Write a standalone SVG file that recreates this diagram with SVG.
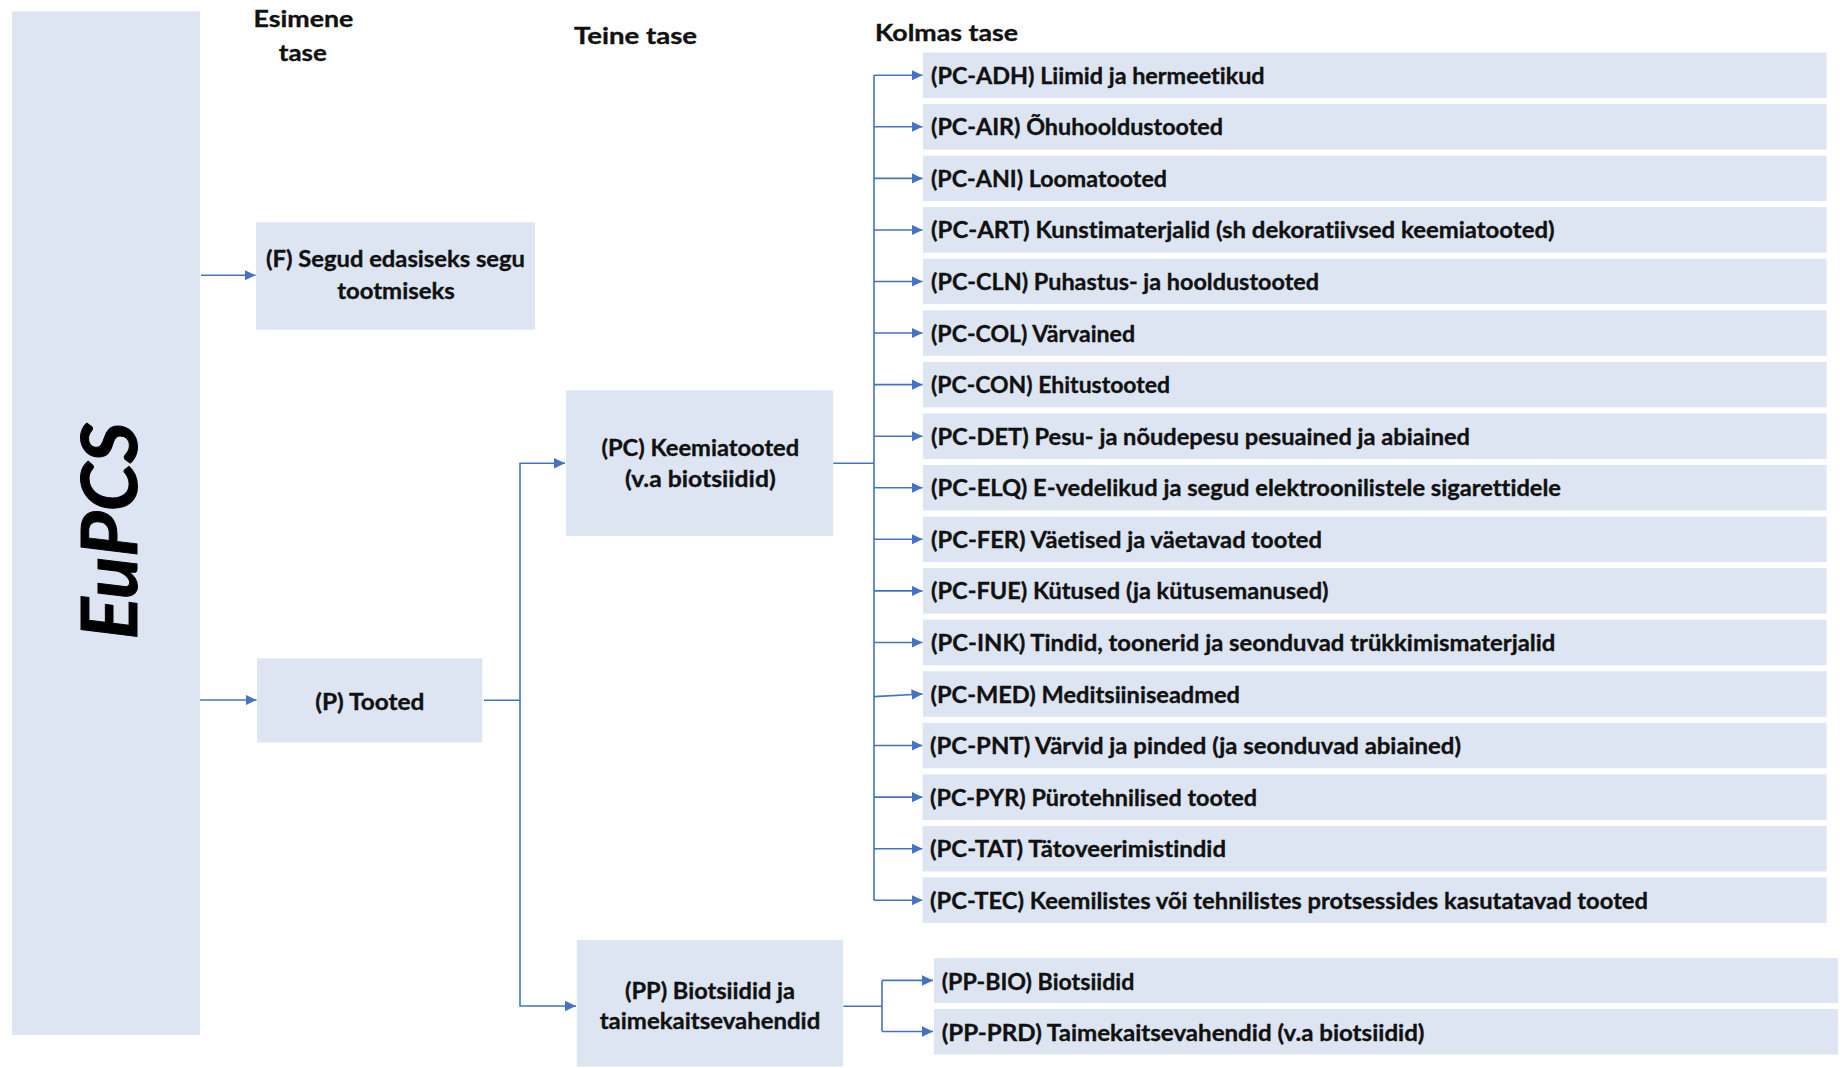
<svg xmlns="http://www.w3.org/2000/svg" width="1840" height="1068" viewBox="0 0 1840 1068">
<style>
.box{fill:#DDE5F2}
.t{font-family:Lato,"Liberation Sans","DejaVu Sans",sans-serif;font-weight:bold;font-size:23px;fill:#111;stroke:#111;stroke-width:0.35;font-variant-ligatures:none}
.c{text-anchor:middle}
.ln{fill:none;stroke:#4472C4;stroke-width:1.6}
.ar{fill:none;stroke:#4472C4;stroke-width:1.6;marker-end:url(#ah)}
</style>
<defs>
<marker id="ah" markerUnits="userSpaceOnUse" markerWidth="12" markerHeight="12" refX="11" refY="5.25" orient="auto">
<path d="M0,0 L11,5.25 L0,10.5 z" fill="#4472C4"/>
</marker>
</defs>
<rect width="1840" height="1068" fill="#fff"/>

<g id="headers">
<text class="t c" x="303.4" y="26.6" textLength="99.7" lengthAdjust="spacingAndGlyphs">Esimene</text>
<text class="t c" x="302.8" y="61.3" textLength="48" lengthAdjust="spacingAndGlyphs">tase</text>
<text class="t c" x="635.5" y="43.6" textLength="123" lengthAdjust="spacingAndGlyphs">Teine tase</text>
<text class="t" x="875" y="40.7" textLength="143" lengthAdjust="spacingAndGlyphs">Kolmas tase</text>
</g>

<g id="connectors">
<line class="ar" x1="201" y1="275.3" x2="255.5" y2="275.3"/>
<line class="ar" x1="200" y1="700" x2="256.5" y2="700"/>
<path class="ar" d="M484,700.2 H520 V463.3 H565"/>
<path class="ar" d="M520,700.2 V1006 H576"/>
<path class="ln" d="M833.2,463.3 H874 M874,75.25 V900.25"/>
<line class="ar" x1="874" y1="75.25" x2="922.5" y2="75.25"/>
<line class="ar" x1="874" y1="126.81" x2="922.5" y2="126.81"/>
<line class="ar" x1="874" y1="178.38" x2="922.5" y2="178.38"/>
<line class="ar" x1="874" y1="229.94" x2="922.5" y2="229.94"/>
<line class="ar" x1="874" y1="281.5" x2="922.5" y2="281.5"/>
<line class="ar" x1="874" y1="333.06" x2="922.5" y2="333.06"/>
<line class="ar" x1="874" y1="384.63" x2="922.5" y2="384.63"/>
<line class="ar" x1="874" y1="436.19" x2="922.5" y2="436.19"/>
<line class="ar" x1="874" y1="487.75" x2="922.5" y2="487.75"/>
<line class="ar" x1="874" y1="539.31" x2="922.5" y2="539.31"/>
<line class="ar" x1="874" y1="590.88" x2="922.5" y2="590.88"/>
<line class="ar" x1="874" y1="642.44" x2="922.5" y2="642.44"/>
<line class="ar" x1="874" y1="696.6" x2="922.5" y2="694"/>
<line class="ar" x1="874" y1="745.56" x2="922.5" y2="745.56"/>
<line class="ar" x1="874" y1="797.13" x2="922.5" y2="797.13"/>
<line class="ar" x1="874" y1="848.69" x2="922.5" y2="848.69"/>
<line class="ar" x1="874" y1="900.25" x2="922.5" y2="900.25"/>
<path class="ln" d="M843.3,1006.3 H882 M882,980.4 V1031.5"/>
<line class="ar" x1="882" y1="980.4" x2="933" y2="980.4"/>
<line class="ar" x1="882" y1="1031.5" x2="933" y2="1031.5"/>
</g>

<g id="n-eupcs">
<rect class="box" x="12" y="11.5" width="188" height="1023.5"/>
<text transform="translate(136.7,531) rotate(-90)" x="0" y="0" text-anchor="middle" textLength="217" lengthAdjust="spacingAndGlyphs" style="font-family:Lato,'Liberation Sans',sans-serif;font-weight:bold;font-style:italic;font-size:77px;fill:#000;stroke:#000;stroke-width:1">EuPCS</text>
</g>

<g id="n-f">
<rect class="box" x="256" y="222.3" width="279" height="107.4"/>
<text class="t c" x="395.5" y="266.7" textLength="259" lengthAdjust="spacingAndGlyphs">(F) Segud edasiseks segu</text>
<text class="t c" x="396" y="299.3" textLength="117.7" lengthAdjust="spacingAndGlyphs">tootmiseks</text>
</g>

<g id="n-p">
<rect class="box" x="257" y="658.3" width="225.3" height="84.1"/>
<text class="t c" x="369.8" y="710.4" textLength="109" lengthAdjust="spacingAndGlyphs">(P) Tooted</text>
</g>

<g id="n-pc">
<rect class="box" x="566.2" y="390.3" width="267" height="145.7"/>
<text class="t c" x="700.3" y="456.4" textLength="197.8" lengthAdjust="spacingAndGlyphs">(PC) Keemiatooted</text>
<text class="t c" x="700.3" y="487" textLength="150.8" lengthAdjust="spacingAndGlyphs">(v.a biotsiidid)</text>
</g>

<g id="n-pp">
<rect class="box" x="576.8" y="940" width="266.4" height="126.5"/>
<text class="t c" x="710" y="999" textLength="170" lengthAdjust="spacingAndGlyphs">(PP) Biotsiidid ja</text>
<text class="t c" x="710" y="1028.5" textLength="220.6" lengthAdjust="spacingAndGlyphs">taimekaitsevahendid</text>
</g>

<g id="n-pc-adh"><rect class="box" x="923" y="52.5" width="903.5" height="45.5"/><text class="t" x="931" y="83.75" textLength="333.6" lengthAdjust="spacingAndGlyphs">(PC-ADH) Liimid ja hermeetikud</text></g>
<g id="n-pc-air"><rect class="box" x="923" y="104.06" width="903.5" height="45.5"/><text class="t" x="931" y="135.31" textLength="292" lengthAdjust="spacingAndGlyphs">(PC-AIR) Õhuhooldustooted</text></g>
<g id="n-pc-ani"><rect class="box" x="923" y="155.63" width="903.5" height="45.5"/><text class="t" x="931" y="186.88" textLength="236" lengthAdjust="spacingAndGlyphs">(PC-ANI) Loomatooted</text></g>
<g id="n-pc-art"><rect class="box" x="923" y="207.19" width="903.5" height="45.5"/><text class="t" x="931" y="238.44" textLength="623.6" lengthAdjust="spacingAndGlyphs">(PC-ART) Kunstimaterjalid (sh dekoratiivsed keemiatooted)</text></g>
<g id="n-pc-cln"><rect class="box" x="923" y="258.75" width="903.5" height="45.5"/><text class="t" x="931" y="290" textLength="388" lengthAdjust="spacingAndGlyphs">(PC-CLN) Puhastus- ja hooldustooted</text></g>
<g id="n-pc-col"><rect class="box" x="923" y="310.31" width="903.5" height="45.5"/><text class="t" x="931" y="341.56" textLength="204" lengthAdjust="spacingAndGlyphs">(PC-COL) Värvained</text></g>
<g id="n-pc-con"><rect class="box" x="923" y="361.88" width="903.5" height="45.5"/><text class="t" x="931" y="393.13" textLength="239" lengthAdjust="spacingAndGlyphs">(PC-CON) Ehitustooted</text></g>
<g id="n-pc-det"><rect class="box" x="923" y="413.44" width="903.5" height="45.5"/><text class="t" x="931" y="444.69" textLength="539" lengthAdjust="spacingAndGlyphs">(PC-DET) Pesu- ja nõudepesu pesuained ja abiained</text></g>
<g id="n-pc-elq"><rect class="box" x="923" y="465" width="903.5" height="45.5"/><text class="t" x="931" y="496.25" textLength="630" lengthAdjust="spacingAndGlyphs">(PC-ELQ) E-vedelikud ja segud elektroonilistele sigarettidele</text></g>
<g id="n-pc-fer"><rect class="box" x="923" y="516.56" width="903.5" height="45.5"/><text class="t" x="931" y="547.81" textLength="391" lengthAdjust="spacingAndGlyphs">(PC-FER) Väetised ja väetavad tooted</text></g>
<g id="n-pc-fue"><rect class="box" x="923" y="568.13" width="903.5" height="45.5"/><text class="t" x="931" y="599.38" textLength="397.5" lengthAdjust="spacingAndGlyphs">(PC-FUE) Kütused (ja kütusemanused)</text></g>
<g id="n-pc-ink"><rect class="box" x="923" y="619.69" width="903.5" height="45.5"/><text class="t" x="931" y="650.94" textLength="624.4" lengthAdjust="spacingAndGlyphs">(PC-INK) Tindid, toonerid ja seonduvad trükkimismaterjalid</text></g>
<g id="n-pc-med"><rect class="box" x="923" y="671.25" width="903.5" height="45.5"/><text class="t" x="930.5" y="702.5" textLength="309.5" lengthAdjust="spacingAndGlyphs">(PC-MED) Meditsiiniseadmed</text></g>
<g id="n-pc-pnt"><rect class="box" x="922.5" y="722.81" width="904" height="45.5"/><text class="t" x="930" y="754.06" textLength="531" lengthAdjust="spacingAndGlyphs">(PC-PNT) Värvid ja pinded (ja seonduvad abiained)</text></g>
<g id="n-pc-pyr"><rect class="box" x="922.5" y="774.38" width="904" height="45.5"/><text class="t" x="930" y="805.63" textLength="327" lengthAdjust="spacingAndGlyphs">(PC-PYR) Pürotehnilised tooted</text></g>
<g id="n-pc-tat"><rect class="box" x="922.5" y="825.94" width="904" height="45.5"/><text class="t" x="930" y="857.19" textLength="296" lengthAdjust="spacingAndGlyphs">(PC-TAT) Tätoveerimistindid</text></g>
<g id="n-pc-tec"><rect class="box" x="922.5" y="877.5" width="904" height="45.5"/><text class="t" x="930" y="908.75" textLength="718" lengthAdjust="spacingAndGlyphs">(PC-TEC) Keemilistes või tehnilistes protsessides kasutatavad tooted</text></g>

<g id="n-pp-bio"><rect class="box" x="934" y="958" width="904" height="45"/><text class="t" x="941.7" y="989.5" textLength="192.7" lengthAdjust="spacingAndGlyphs">(PP-BIO) Biotsiidid</text></g>
<g id="n-pp-prd"><rect class="box" x="934" y="1009" width="904" height="45.5"/><text class="t" x="941.7" y="1040.5" textLength="482.8" lengthAdjust="spacingAndGlyphs">(PP-PRD) Taimekaitsevahendid (v.a biotsiidid)</text></g>
</svg>
